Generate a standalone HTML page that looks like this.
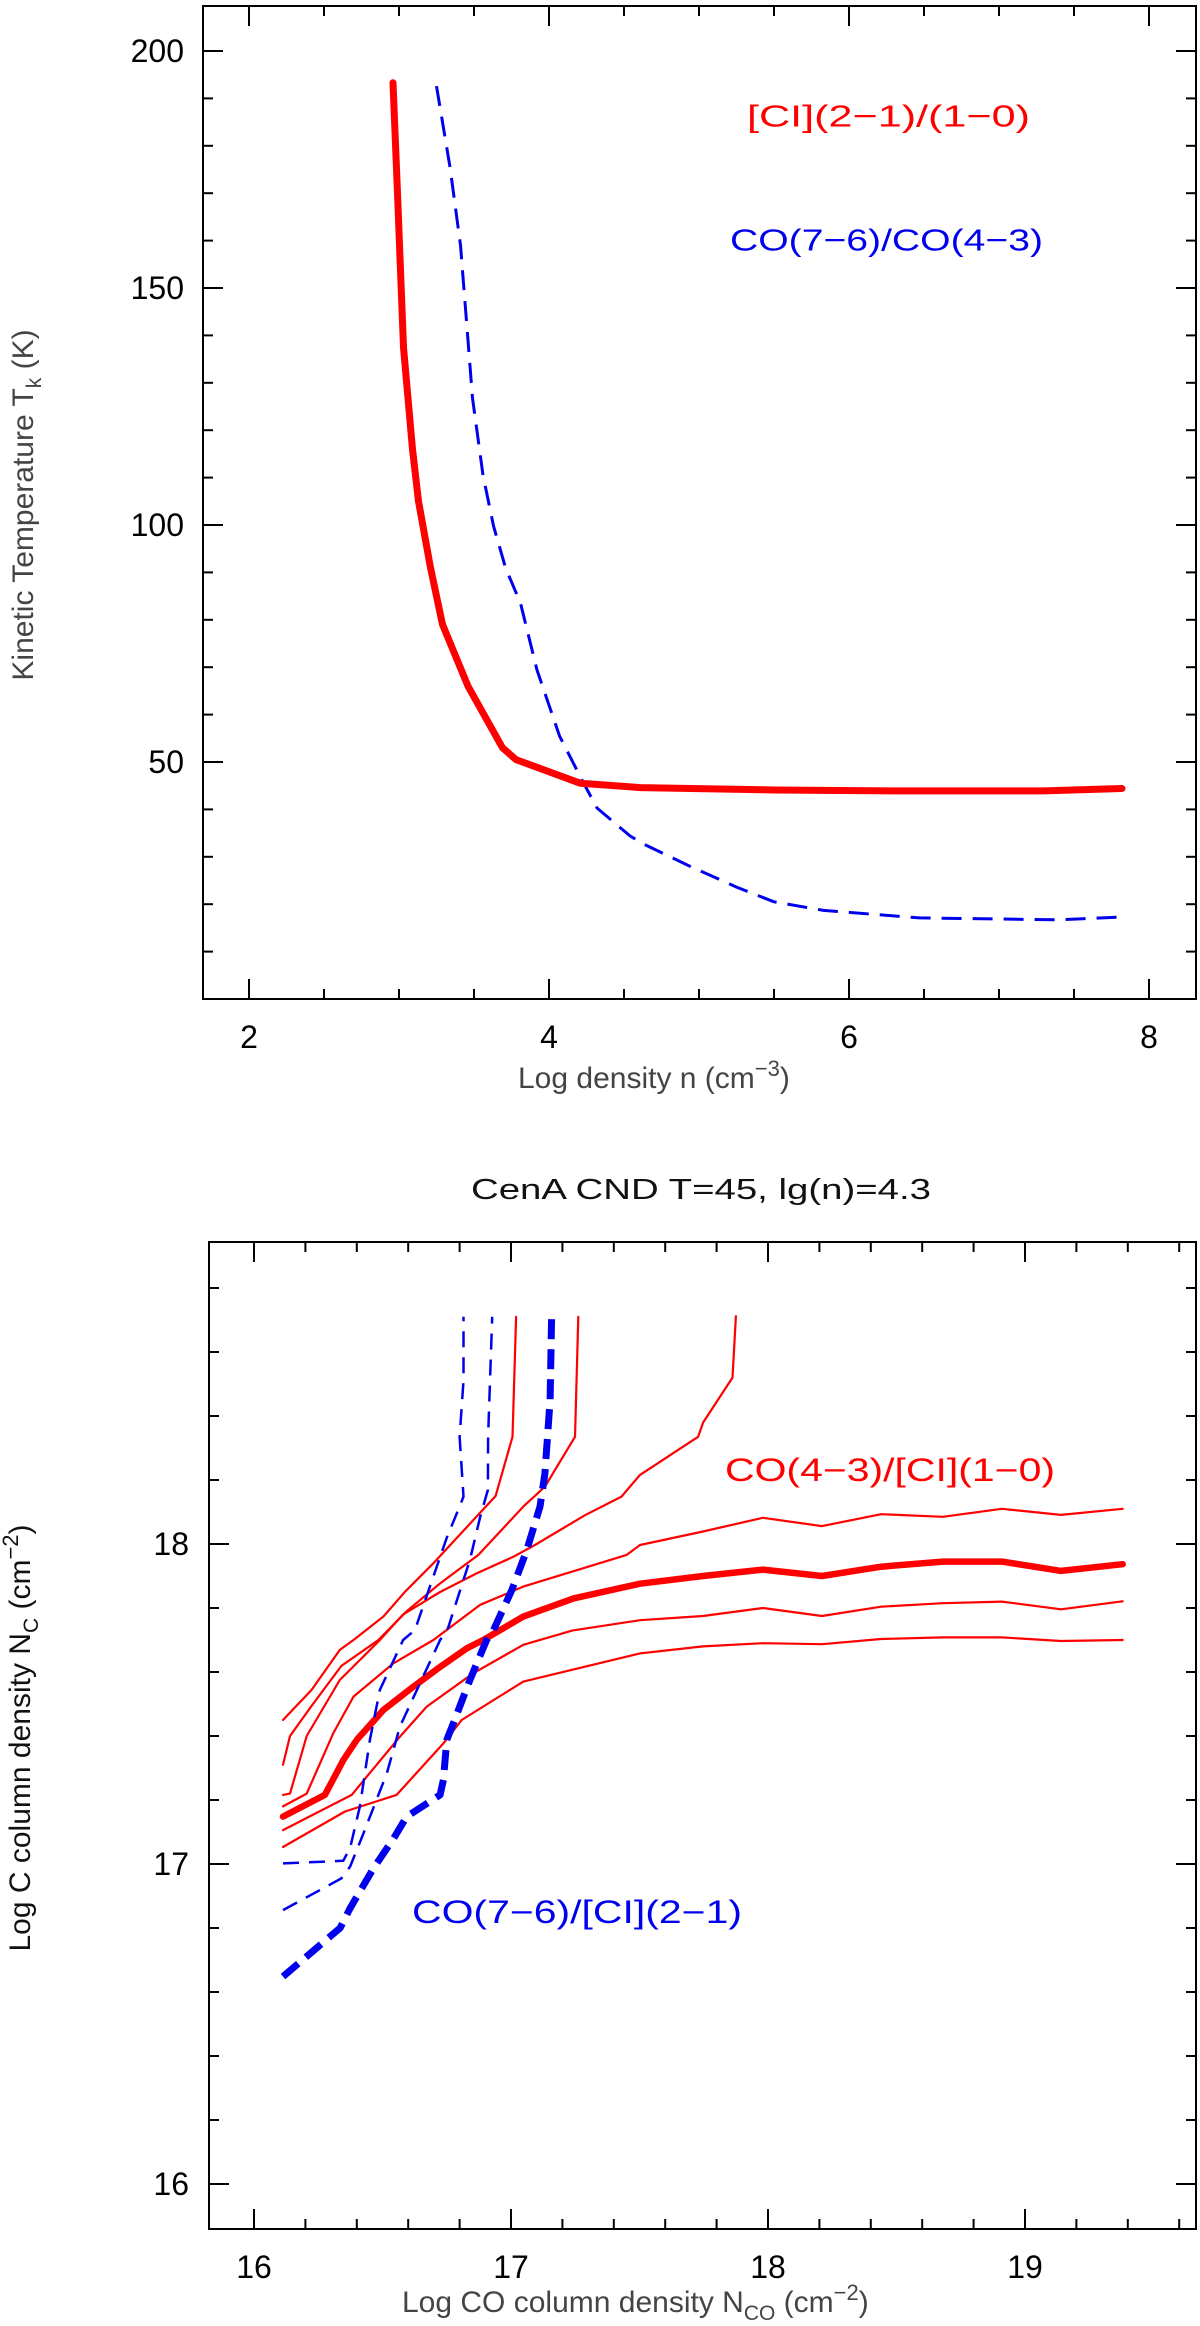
<!DOCTYPE html>
<html><head><meta charset="utf-8"><style>
html,body{margin:0;padding:0;background:#fff;}
svg{display:block;font-family:"Liberation Sans",sans-serif;}
</style></head><body>
<svg id="fig" width="1200" height="2326" viewBox="0 0 1200 2326" xmlns="http://www.w3.org/2000/svg"></svg>
<script>
// ---- Top panel data ----
const topRedX = [2.96,2.99,3.03,3.09,3.13,3.21,3.29,3.46,3.69,3.78,4.21,4.61,5.5,6.3,7.3,7.82];
const topRedT = [193.3,170,137.5,116,105,91,79,66,53,50.5,45.5,44.6,44.1,43.9,43.9,44.4];
const topBlueX = [3.25,3.34,3.41,3.45,3.49,3.56,3.63,3.71,3.81,3.92,4.07,4.21,4.32,4.54,4.63,4.94,5.25,5.5,5.83,6.47,7.4,7.82];
const topBlueT = [192.6,175.5,159,143,126.8,110.5,99.8,91,83.5,69.4,55.5,46.8,40.3,34.4,32.7,28,23.6,20.5,18.7,17.1,16.7,17.3];
const topXTicks = [2,4,6,8];
const topYTicks = [50,100,150,200];

// ---- Bottom panel data ----
const botXTicks = [16,17,18,19];
const botYTicks = [16,17,18];
const redAx = [16.113,16.224,16.334,16.387,16.503,16.588,16.698,16.94,17.006,17.02];
const redAy = [17.45,17.544,17.669,17.70,17.773,17.851,17.94,18.15,18.335,18.71];
const redBx = [16.113,16.14,16.224,16.34,16.484,16.594,16.724,16.873,17.048,17.132,17.249,17.262];
const redBy = [17.31,17.40,17.494,17.619,17.70,17.79,17.877,17.966,18.117,18.179,18.335,18.71];
const redCx = [16.113,16.14,16.205,16.334,16.49,16.58,16.724,16.866,17.009,17.093,17.288,17.43,17.502,17.728,17.748,17.862,17.875];
const redCy = [17.216,17.22,17.40,17.575,17.70,17.78,17.85,17.908,17.96,17.997,18.09,18.148,18.216,18.335,18.38,18.52,18.712];
const gridX = [17.502,17.747,17.98,18.21,18.44,18.68,18.91,19.14,19.38];
const redDx = [16.113,16.205,16.308,16.387,16.542,16.698,16.88,17.048,17.45].concat(gridX);
const redDy = [17.18,17.22,17.408,17.523,17.627,17.70,17.81,17.867,17.966,17.997,18.039,18.082,18.056,18.093,18.085,18.11,18.091,18.11];
const redThickX = [16.113,16.276,16.348,16.4,16.503,16.62,16.724,16.828,16.892,17.048,17.243].concat(gridX);
const redThickY = [17.148,17.216,17.325,17.388,17.481,17.554,17.616,17.674,17.70,17.773,17.83,17.876,17.90,17.92,17.90,17.929,17.945,17.945,17.916,17.937];
const redEx = [16.113,16.38,16.568,16.672,16.853,17.048,17.24].concat(gridX);
const redEy = [17.106,17.216,17.398,17.492,17.596,17.685,17.73,17.762,17.775,17.80,17.775,17.804,17.815,17.82,17.796,17.821];
const redFx = [16.113,16.354,16.555,16.737,16.808,17.048].concat(gridX);
const redFy = [17.053,17.164,17.216,17.377,17.45,17.57,17.658,17.68,17.69,17.687,17.703,17.708,17.708,17.697,17.70];
const blue1x = [16.113,16.347,16.374,16.412,16.451,16.49,16.58,16.626,16.75,16.80,16.815,16.80,16.815,16.815];
const blue1y = [17.002,17.01,17.05,17.18,17.388,17.544,17.70,17.731,18.02,18.117,18.148,18.335,18.51,18.71];
const blue2x = [16.113,16.34,16.374,16.426,16.517,16.568,16.724,16.755,16.79,16.84,16.88,16.91,16.911,16.927];
const blue2y = [16.856,16.955,16.992,17.096,17.284,17.43,17.70,17.737,17.825,17.95,18.085,18.169,18.335,18.71];
const blueThickX = [16.113,16.335,16.374,16.465,16.543,16.594,16.724,16.737,16.75,16.776,16.84,16.905,16.932,17.003,17.061,17.113,17.132,17.152,17.158];
const blueThickY = [16.648,16.8,16.862,16.987,17.08,17.148,17.216,17.263,17.388,17.44,17.575,17.70,17.731,17.856,17.98,18.117,18.22,18.45,18.71];

const NS = "http://www.w3.org/2000/svg";
const svg = document.getElementById('fig');
function mk(tag, attrs, parent){
  const e = document.createElementNS(NS, tag);
  for (const k in attrs) e.setAttribute(k, attrs[k]);
  (parent||svg).appendChild(e);
  return e;
}
// axis functions
const tX = v => 549 + (v-4)*150;
const tY = v => 999 - v*4.74;
const bX = v => 254 + (v-16)*257;
const bY = v => 1544 - (v-18)*320;

function frame(name, x0,y0,x1,y1){
  const r = mk('rect',{x:x0,y:y0,width:x1-x0,height:y1-y0,fill:'none',stroke:'#000','stroke-width':2});
  
  
}
function tick(x1,y1,x2,y2){
  const l = mk('line',{x1:x1,y1:y1,x2:x2,y2:y2,stroke:'#000','stroke-width':2});
  
  
}
function text(str, x, y, opts){
  const t = mk('text',Object.assign({x:x,y:y,'font-size':32,fill:'#000','dominant-baseline':'central'},opts||{}));
  t.textContent = str;
  return t;
}
function poly(xs, ys, fx, fy, stroke, w, dash, name){
  const pts = xs.map((v,i)=>fx(v).toFixed(1)+','+fy(ys[i]).toFixed(1)).join(' ');
  const p = mk('polyline',{points:pts,fill:'none',stroke:stroke,'stroke-width':w,'stroke-linejoin':'round','stroke-linecap':dash?'butt':'round'});
  if (dash) p.setAttribute('stroke-dasharray', dash);
  
  
}

// ===== Top panel =====
const T0={x0:203,y0:6,x1:1196,y1:999};
frame('top-plot-frame',T0.x0,T0.y0,T0.x1,T0.y1);
for (let v=2; v<=8.001; v+=0.5){
  const major = Math.abs(v-Math.round(v/2)*2)<1e-6;
  const L = major?20:10, x=tX(v);
  tick(x,T0.y1,x,T0.y1-L); tick(x,T0.y0,x,T0.y0+L);
}
for (let v=10; v<=200; v+=10){
  const major = v%50===0;
  const L = major?20:10, y=tY(v);
  tick(T0.x0,y,T0.x0+L,y); tick(T0.x1,y,T0.x1-L,y);
}
topXTicks.forEach(v=>{
  const t=text(String(v), tX(v), 1037, {'text-anchor':'middle'});
  
  
});
topYTicks.forEach(v=>{
  const t=text(String(v), 184, tY(v), {'text-anchor':'end'});
  
  
});
poly(topBlueX, topBlueT, tX, tY, '#0000ee', 3, '20 11', 'co76-co43-curve');
poly(topRedX, topRedT, tX, tY, '#ff0000', 7, null, 'ci21-ci10-curve');

let lbl = text('[CI](2\u22121)/(1\u22120)', 747, 116, {fill:'#ff0000','font-size':31,textLength:283,lengthAdjust:'spacingAndGlyphs'});
 
lbl = text('CO(7\u22126)/CO(4\u22123)', 730, 240, {fill:'#0000ee','font-size':31,textLength:313,lengthAdjust:'spacingAndGlyphs'});
 

// x-axis title top
let xt = mk('text',{x:518,y:1088,'font-size':30,fill:'#444'});
xt.innerHTML = 'Log density n (cm<tspan dy="-12" font-size="22">\u22123</tspan><tspan dy="12">)</tspan>';
 
let yt = mk('text',{x:0,y:0,'font-size':30,fill:'#444','text-anchor':'middle',transform:'translate(33,505) rotate(-90)'});
yt.innerHTML = 'Kinetic Temperature T<tspan dy="8" font-size="21">k</tspan><tspan dy="-8"> (K)</tspan>';
 

// ===== Bottom panel =====
let ttl = text('CenA CND T=45, lg(n)=4.3', 471, 1190, {'font-size':29,fill:'#111',textLength:460,lengthAdjust:'spacingAndGlyphs'});
 
const B0={x0:209,y0:1242,x1:1196,y1:2229};
frame('bottom-plot-frame',B0.x0,B0.y0,B0.x1,B0.y1);
for (let i=0;i<=18;i++){
  const v = 16 + i*0.2; const x=bX(v);
  if (x>B0.x1-2) break;
  const L = (i%5===0)?20:10;
  tick(x,B0.y1,x,B0.y1-L); tick(x,B0.y0,x,B0.y0+L);
}
for (let i=-1;i<=15;i++){
  const v = 16 + i*0.2; const y=bY(v);
  if (y<B0.y0+2 || y>B0.y1-2) continue;
  const L = (i%5===0)?20:10;
  tick(B0.x0,y,B0.x0+L,y); tick(B0.x1,y,B0.x1-L,y);
}
botXTicks.forEach(v=>{
  const t=text(String(v), bX(v), 2267, {'text-anchor':'middle'});
  
  
});
botYTicks.forEach(v=>{
  const t=text(String(v), 189, bY(v), {'text-anchor':'end'});
  
  
});
poly(redAx, redAy, bX, bY, '#ff0000', 2.2, null, 'co43-ci10-contour-a');
poly(redBx, redBy, bX, bY, '#ff0000', 2.2, null, 'co43-ci10-contour-b');
poly(redCx, redCy, bX, bY, '#ff0000', 2.2, null, 'co43-ci10-contour-c');
poly(redDx, redDy, bX, bY, '#ff0000', 2.2, null, 'co43-ci10-contour-d');
poly(redThickX, redThickY, bX, bY, '#ff0000', 6.5, null, 'co43-ci10-contour-main');
poly(redEx, redEy, bX, bY, '#ff0000', 2.2, null, 'co43-ci10-contour-e');
poly(redFx, redFy, bX, bY, '#ff0000', 2.2, null, 'co43-ci10-contour-f');
poly(blue1x, blue1y, bX, bY, '#0000ee', 2.5, '16 10', 'co76-ci21-contour-a');
poly(blue2x, blue2y, bX, bY, '#0000ee', 2.5, '16 10', 'co76-ci21-contour-b');
poly(blueThickX, blueThickY, bX, bY, '#0000ee', 7, '20 10', 'co76-ci21-contour-main');

lbl = text('CO(4\u22123)/[CI](1\u22120)', 725, 1470, {fill:'#ff0000','font-size':32,textLength:330,lengthAdjust:'spacingAndGlyphs'});
 
lbl = text('CO(7\u22126)/[CI](2\u22121)', 412, 1912, {fill:'#0000ee','font-size':32,textLength:330,lengthAdjust:'spacingAndGlyphs'});
 

xt = mk('text',{x:402,y:2312,'font-size':30,fill:'#444'});
xt.innerHTML = 'Log CO column density N<tspan dy="8" font-size="21">CO</tspan><tspan dy="-8"> (cm</tspan><tspan dy="-12" font-size="22">\u22122</tspan><tspan dy="12">)</tspan>';
 
yt = mk('text',{x:0,y:0,'font-size':30,fill:'#111','text-anchor':'middle',transform:'translate(30,1738) rotate(-90)'});
yt.innerHTML = 'Log C column density N<tspan dy="8" font-size="21">C</tspan><tspan dy="-8"> (cm</tspan><tspan dy="-12" font-size="22">\u22122</tspan><tspan dy="12">)</tspan>';
 
</script>
</body></html>
